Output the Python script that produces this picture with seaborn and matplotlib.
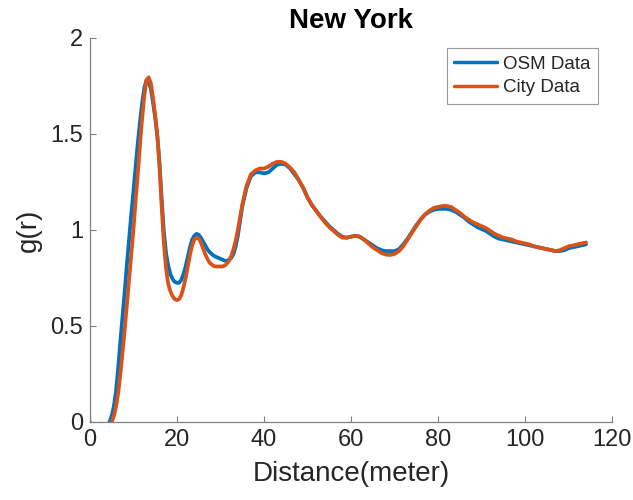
import matplotlib
matplotlib.use("Agg")
import matplotlib.pyplot as plt
import seaborn as sns
import pandas as pd

# Sample grid of distances r (meters): finer steps through the first peaks
distance = [0, 1, 2, 3, 4] + [4.5 + 0.5 * i for i in range(62)] + list(range(36, 115))

# Pair correlation function g(r) for New York, two data sources
osm_data = [
    0, -0.06, -0.10, -0.08, -0.03,
    # 4.5 .. 35 in 0.5 m steps
    0.0, 0.03, 0.08, 0.16, 0.28, 0.42, 0.55, 0.68, 0.82, 0.95,
    1.08, 1.20, 1.33, 1.45, 1.56, 1.66, 1.74, 1.78, 1.775, 1.735,
    1.665, 1.585, 1.49, 1.35, 1.16, 0.99, 0.88, 0.815, 0.77, 0.745,
    0.73, 0.725, 0.725, 0.74, 0.77, 0.81, 0.86, 0.91, 0.95, 0.97,
    0.98, 0.975, 0.96, 0.94, 0.92, 0.90, 0.885, 0.875, 0.865, 0.86,
    0.855, 0.85, 0.845, 0.84, 0.84, 0.845, 0.855, 0.875, 0.915, 0.97,
    1.045, 1.12,
    # 36 .. 114 in 1 m steps
    1.22, 1.28, 1.30, 1.30,
    1.295, 1.30, 1.32, 1.34, 1.345, 1.34, 1.32, 1.29, 1.26, 1.22,
    1.17, 1.13, 1.10, 1.07, 1.045, 1.02, 1.00, 0.98, 0.965, 0.96,
    0.965, 0.97, 0.965, 0.95, 0.935, 0.92, 0.905, 0.895, 0.89, 0.89,
    0.89, 0.90, 0.925, 0.955, 0.99, 1.025, 1.055, 1.08, 1.095, 1.105,
    1.11, 1.11, 1.11, 1.105, 1.095, 1.08, 1.065, 1.045, 1.03, 1.015,
    1.005, 0.995, 0.98, 0.965, 0.955, 0.95, 0.945, 0.94, 0.935, 0.93,
    0.925, 0.92, 0.915, 0.91, 0.905, 0.90, 0.895, 0.89, 0.89, 0.895,
    0.905, 0.91, 0.915, 0.92, 0.925,
]

city_data = [
    0, -0.08, -0.13, -0.11, -0.06,
    # 4.5 .. 35 in 0.5 m steps
    -0.03, 0.0, 0.03, 0.08, 0.15, 0.25, 0.36, 0.48, 0.61, 0.74,
    0.87, 1.00, 1.15, 1.29, 1.44, 1.58, 1.70, 1.78, 1.795, 1.765,
    1.69, 1.60, 1.49, 1.33, 1.12, 0.93, 0.80, 0.72, 0.68, 0.655,
    0.64, 0.635, 0.64, 0.66, 0.70, 0.75, 0.81, 0.87, 0.92, 0.95,
    0.96, 0.955, 0.935, 0.905, 0.875, 0.85, 0.83, 0.82, 0.812, 0.81,
    0.81, 0.81, 0.81, 0.815, 0.825, 0.84, 0.865, 0.90, 0.945, 1.00,
    1.065, 1.13,
    # 36 .. 114 in 1 m steps
    1.23, 1.29, 1.31, 1.32,
    1.32, 1.33, 1.345, 1.355, 1.355, 1.345, 1.325, 1.30, 1.26, 1.22,
    1.17, 1.13, 1.10, 1.07, 1.04, 1.015, 0.995, 0.975, 0.96, 0.96,
    0.965, 0.97, 0.965, 0.95, 0.93, 0.91, 0.895, 0.88, 0.872, 0.87,
    0.875, 0.89, 0.915, 0.95, 0.985, 1.02, 1.055, 1.08, 1.10, 1.115,
    1.12, 1.125, 1.125, 1.12, 1.105, 1.09, 1.07, 1.055, 1.04, 1.03,
    1.02, 1.01, 0.995, 0.98, 0.97, 0.96, 0.955, 0.95, 0.94, 0.935,
    0.93, 0.925, 0.915, 0.91, 0.905, 0.90, 0.895, 0.89, 0.895, 0.905,
    0.915, 0.92, 0.925, 0.93, 0.935,
]

series_names = ["OSM Data", "City Data"]
series_colors = ["#0072BD", "#D95319"]
x_ticks = [0, 20, 40, 60, 80, 100, 120]
y_ticks = [0, 0.5, 1, 1.5, 2]
y_tick_labels = ["0", "0.5", "1", "1.5", "2"]

df = pd.concat([
    pd.DataFrame({"r": distance, "g": osm_data, "source": series_names[0]}),
    pd.DataFrame({"r": distance, "g": city_data, "source": series_names[1]}),
])

sns.set_style("white")
plt.rcParams["font.family"] = ["Liberation Sans", "DejaVu Sans"]

fig = plt.figure(figsize=(6.33, 5.0), dpi=100)
ax = fig.add_axes([0.142, 0.156, 0.825, 0.768])

sns.lineplot(data=df, x="r", y="g", hue="source", hue_order=series_names,
             palette=series_colors, linewidth=2.7, ax=ax, legend=True,
             estimator=None, sort=False)

ax.set_xlim(0, 120)
ax.set_ylim(0, 2)
ax.set_xticks(x_ticks)
ax.set_yticks(y_ticks)
ax.set_yticklabels(y_tick_labels)
ax.tick_params(bottom=True, left=True, direction="in", length=4, width=0.8,
               labelcolor="#262626", color="#808080", labelsize=17, pad=5)
for side in ["top", "right"]:
    ax.spines[side].set_visible(False)
for side in ["left", "bottom"]:
    ax.spines[side].set_color("#808080")
    ax.spines[side].set_linewidth(0.9)

ax.set_xlabel("Distance(meter)", fontsize=20, color="#262626", labelpad=7)
ax.set_ylabel("g(r)", fontsize=20, color="#262626", labelpad=6)
ax.set_title("New York", fontsize=20, fontweight="bold", color="black", pad=7)

leg = ax.legend(title=None, loc="upper right", bbox_to_anchor=(0.973, 0.974),
                borderaxespad=0, fontsize=13.5, frameon=True, fancybox=False,
                handlelength=2.3, borderpad=0.4, labelspacing=0.35,
                handletextpad=0.3)
leg.get_frame().set_edgecolor("#808080")
leg.get_frame().set_linewidth(0.8)
for line in leg.get_lines():
    line.set_linewidth(2.5)

fig.savefig("out.png", dpi=100)
